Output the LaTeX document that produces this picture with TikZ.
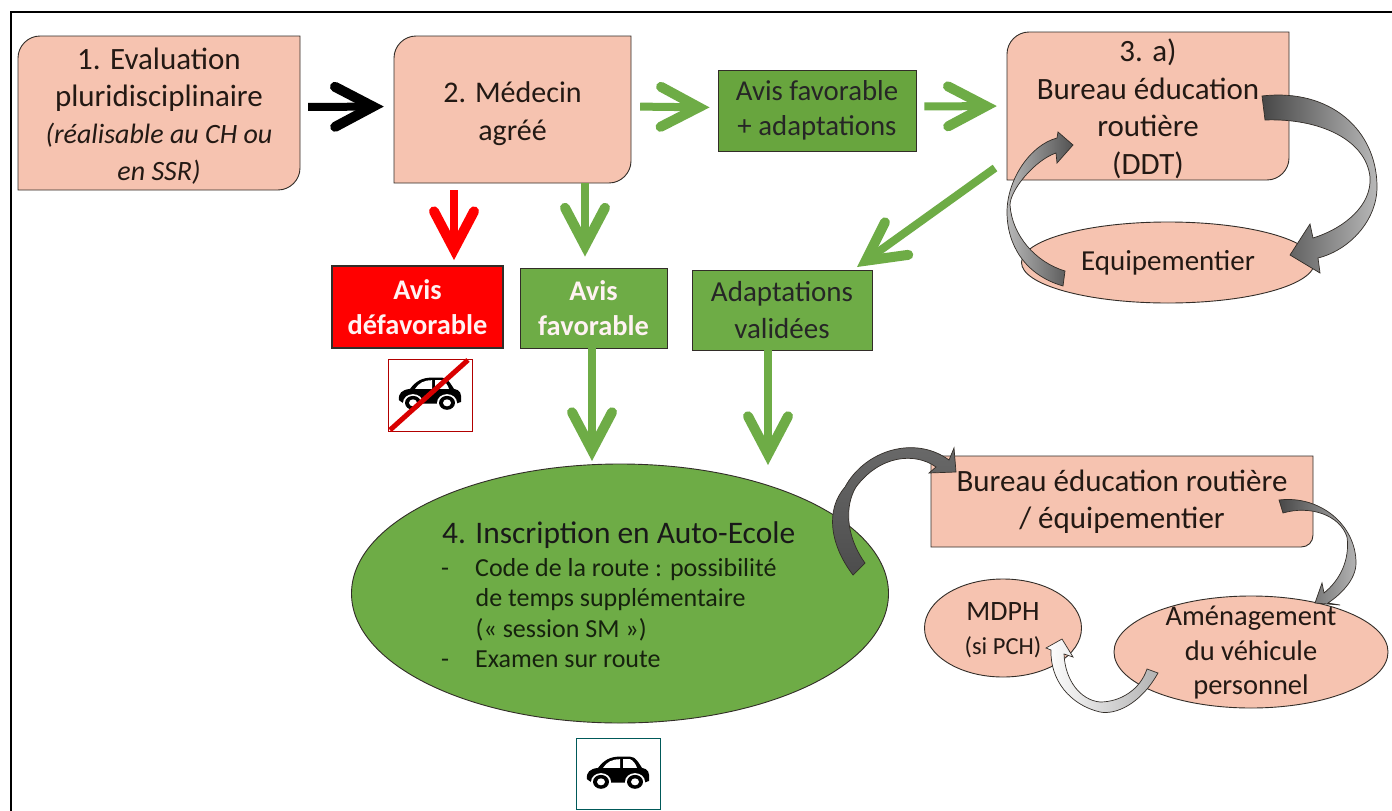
\documentclass[tikz,border=0pt]{standalone}
\usepackage{fontspec}
\setmainfont{Carlito}
\usepackage{tikz}
\usetikzlibrary{arrows.meta,shapes.geometric}
\definecolor{peach}{RGB}{246,195,176}
\definecolor{darkgreen}{RGB}{104,165,62}
\definecolor{lightgreen}{RGB}{110,172,70}
\definecolor{inkline}{RGB}{50,45,40}
\definecolor{inktext}{RGB}{35,25,20}
\tikzset{peachnode/.style={fill=peach,draw=inkline,line width=.9,inner sep=0,align=center,text=inktext}}
\tikzset{plainlabel/.style={inner sep=0,align=center,text=inktext}}
\tikzset{greenbox/.style={rectangle,fill=lightgreen,draw=inkline,line width=.9,inner sep=0,align=center,text=black!85}}
\tikzset{boldtext/.style={font=\fontsize{28.4}{35}\selectfont\bfseries,text=white!95!red}}
\tikzset{blockarrow/.style={line width=8,-{Straight Barb[length=38,width=40,line width=10,line cap=round,line join=miter]}}}
\tikzset{greenarrow/.style={blockarrow,draw=lightgreen}}
\tikzset{curved/.style={draw=inkline,line width=.7}}
\tikzset{pics/car/.style={code={
  \fill[black] (-31,6) .. controls (-32,-2) and (-28,-6) .. (-20,-7)
    .. controls (-14,-16) and (-8,-20) .. (2,-20) -- (12,-20)
    .. controls (18,-20) and (21,-12) .. (24,-7)
    .. controls (30,-6) and (32,-2) .. (31,8) -- (26,10) -- (-26,10) -- cycle;
  \fill[white] (-15,-7) .. controls (-11,-14) and (-6,-17) .. (2,-17) -- (2,-7) -- cycle;
  \fill[white] (5,-17) -- (12,-17) .. controls (15,-16) and (18,-11) .. (19,-7) -- (5,-7) -- cycle;
  \foreach \wx in {-17,17} {
    \fill[white] (\wx,9) circle [radius=10];
    \fill[black] (\wx,9) circle [radius=8];
    \fill[white] (\wx,9) circle [radius=4];
  }
}}}
\newcommand{\diagshape}[4]{\draw[fill=peach,draw=inkline,line width=.9] (#1+22,#2) -- (#3,#2) -- (#3,#4-22) .. controls (#3,#4-10) and (#3-10,#4) .. (#3-22,#4) -- (#1,#4) -- (#1,#2+22) .. controls (#1,#2+10) and (#1+10,#2) .. (#1+22,#2) -- cycle;}

\begin{document}
\begin{tikzpicture}[x=1pt,y=-1pt]
\useasboundingbox (0,0) rectangle (1392,811);
\fill[white] (0,0) rectangle (1392,811);
\draw[line width=1.6] (11,811) -- (11,12) -- (1392,12);

% top row
\diagshape{18}{36}{300}{190}
\node[plainlabel,minimum width=282,minimum height=154,font=\fontsize{31}{37}\selectfont] (eval) at (159,116) {1. Evaluation\\pluridisciplinaire\\{\fontsize{28}{37}\selectfont\itshape (réalisable au CH ou}\\{\fontsize{28}{37}\selectfont\itshape en SSR)}};
\diagshape{394}{36}{631}{183}
\node[plainlabel,minimum width=237,minimum height=147,font=\fontsize{30}{38}\selectfont] (medecin) at (512.5,113.5) {2. Médecin\\agréé};
\node[greenbox,fill=darkgreen,minimum width=198,minimum height=81,font=\fontsize{28.8}{35}\selectfont] (adapt) at (817,110.5) {Avis favorable\\+ adaptations};
\diagshape{1007}{32}{1289}{180}
\node[plainlabel,minimum width=282,minimum height=148,font=\fontsize{31}{37.5}\selectfont] (bureau) at (1148,109) {3. a)\\Bureau éducation\\routière\\(DDT)};
\node[peachnode,ellipse,minimum width=293,minimum height=81,font=\fontsize{29}{35}\selectfont] (equip) at (1168,262.5) {Equipementier};

% middle row
\node[rectangle,fill=red,draw=inkline,line width=1.8,inner sep=0,align=center,minimum width=171,minimum height=82,boldtext] (defav) at (417.5,307) {Avis\\défavorable};
\node[greenbox,minimum width=147,minimum height=80,boldtext] (favor) at (593.5,308) {Avis\\favorable};
\node[greenbox,minimum width=180,minimum height=80,font=\fontsize{29}{37}\selectfont] (valid) at (782,310) {Adaptations\\validées};

% icons
\node[rectangle,draw=red!70!black,line width=.7,fill=white,minimum width=84,minimum height=72,inner sep=0] (nocar) at (430,395) {};
\pic[yscale=.87] at (430,395) {car};
\draw[red!85!black,line width=5] (390,430) -- (468,360);
\node[rectangle,draw=teal!70!black,line width=.9,fill=white,minimum width=84,minimum height=71,inner sep=0] (okcar) at (618,773.5) {};
\pic[yscale=.87] at (618,774) {car};

% bottom part
\node[ellipse,fill=lightgreen,draw=inkline,line width=.9,minimum width=537,minimum height=259,inner sep=0] (ecole) at (620,593.5) {};
\node[anchor=west,font=\fontsize{31.4}{36}\selectfont,inner sep=0,text=black!90] (ecoletitle) at (442,535) {4. Inscription en Auto-Ecole};
\node[anchor=north west,align=left,font=\fontsize{26}{30.5}\selectfont,inner sep=0,text=black!80!lightgreen] (ecoletext) at (441,558) {-\hspace{26pt}Code de la route : possibilité\\\hspace{34.5pt}de temps supplémentaire\\\hspace{34.5pt}(« session SM »)\\-\hspace{26pt}Examen sur route};
\path[fill=peach,draw=inkline,line width=.9] (931,456) -- (1313,456) -- (1313,535) .. controls (1313,542) and (1308,547) .. (1301,547) -- (931,547) -- cycle;
\node[plainlabel,minimum width=382,minimum height=91,font=\fontsize{31}{37}\selectfont] (bureautwo) at (1122,501.5) {Bureau éducation routière\\/ équipementier};
\node[peachnode,ellipse,minimum width=157,minimum height=98] (mdph) at (1003,628) {};
\node[plainlabel,font=\fontsize{28}{34}\selectfont] (mdphtext) at (1003,630) {MDPH\\{\fontsize{24.5}{34}\selectfont (si PCH)}};
\node[peachnode,ellipse,minimum width=274,minimum height=112] (amenag) at (1251,652) {};

% straight arrows
\draw[blockarrow,draw=black,shorten <=8,shorten >=10] ([yshift=9]eval.east) -- ([yshift=7]medecin.west);
\draw[greenarrow,shorten <=9,shorten >=8] ([yshift=7]medecin.east) -- ([yshift=3]adapt.west);
\draw[greenarrow,shorten <=8,shorten >=10] ([yshift=4]adapt.east) -- ([yshift=3]bureau.west);
\coordinate (redtop) at (454,183);
\coordinate (favtop) at (585,183);
\draw[blockarrow,draw=red,shorten <=7,shorten >=5] (redtop) -- (redtop |- defav.north);
\draw[greenarrow,shorten >=11] (favtop) -- (favtop |- favor.north);
\coordinate (diagstart) at (995,168);
\coordinate (diagend) at (857,267);
\draw[greenarrow] (diagstart) -- (diagend);
\coordinate (favdown) at (592,461);
\coordinate (validdown) at (768,465);
\draw[greenarrow] (favdown |- favor.south) -- (favdown);
\draw[greenarrow] (validdown |- valid.south) -- (validdown);

% curved arrows
\path[curved,left color=black!72,right color=black!28] (1262,96) .. controls (1330,88) and (1377,130) .. (1377,187) .. controls (1377,220) and (1350,250) .. (1318,258) -- (1320,273) -- (1290,255) -- (1310,224) -- (1313,238) .. controls (1345,228) and (1372,205) .. (1370,177) .. controls (1366,140) and (1320,118) .. (1265,120) -- cycle;
\path[curved,left color=black!28,right color=black!68] (1063,286) .. controls (1025,275) and (1007,245) .. (1007,212) .. controls (1007,180) and (1030,145) .. (1057,138) -- (1058,132) -- (1073,145) -- (1057,163) -- (1056,153) .. controls (1035,160) and (1010,190) .. (1010,205) .. controls (1012,235) and (1035,262) .. (1065,271) -- cycle;
\path[curved,top color=black!58,middle color=black!28,bottom color=black!70] (853,575) .. controls (830,545) and (825,510) .. (845,487) .. controls (865,450) and (915,435) .. (949,460) -- (954,448) -- (956,472) -- (929,473) -- (936,467) .. controls (915,452) and (880,455) .. (856,487) .. controls (845,505) and (845,535) .. (865,563) -- cycle;
\path[curved,left color=black!72,right color=black!30] (1279,500) .. controls (1320,495) and (1356,525) .. (1356,563) .. controls (1356,580) and (1340,595) .. (1328,603) -- (1340,605) -- (1315,603) -- (1322,583) -- (1324,593) .. controls (1340,580) and (1350,560) .. (1347,537) .. controls (1340,515) and (1310,505) .. (1283,513) -- cycle;
\path[curved,left color=white,right color=black!30] (1158,673) .. controls (1140,705) and (1115,715) .. (1100,712) .. controls (1070,705) and (1050,680) .. (1051,650) -- (1046,648) -- (1062,639) -- (1073,657) -- (1064,654) .. controls (1065,680) and (1080,700) .. (1100,702) .. controls (1120,702) and (1140,690) .. (1147,669) -- cycle;
\node[plainlabel,font=\fontsize{28.5}{34.5}\selectfont] (amenagtext) at (1251,653) {Aménagement\\du véhicule\\personnel};
\end{tikzpicture}
\end{document}
